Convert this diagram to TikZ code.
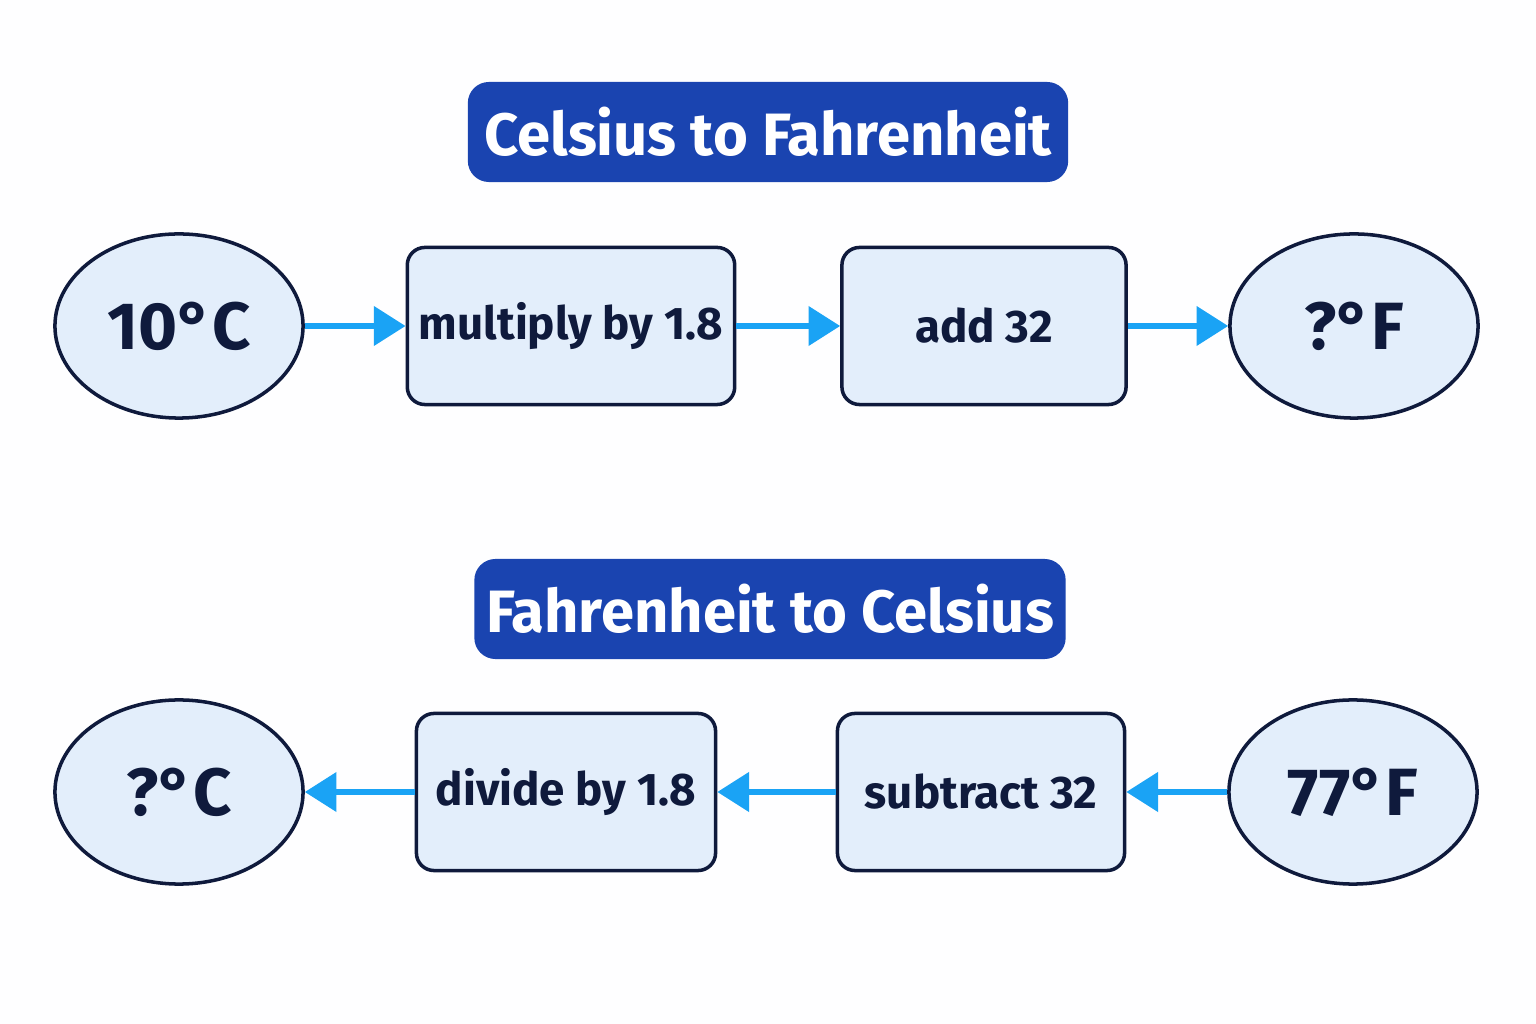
\documentclass[tikz,border=0pt]{standalone}
\usepackage{fontspec}
\setmainfont{Fira Sans}
\usetikzlibrary{arrows.meta,shapes.geometric}
\definecolor{navy}{HTML}{0F1A3C}
\definecolor{pale}{HTML}{E3EEFB}
\definecolor{royal}{HTML}{1A44B0}
\definecolor{sky}{HTML}{1AA3F5}
\begin{document}
\begin{tikzpicture}[x=0.01cm,y=0.01cm]
\tikzstyle{every node}=[text=navy]
\tikzstyle{title}=[fill=royal, rounded corners=6pt, text=white, font=\fontsize{17}{20}\selectfont\bfseries, minimum height=1cm]
\tikzstyle{temp}=[draw=navy, line width=1pt, ellipse, fill=pale, minimum width=2.48cm, minimum height=1.84cm, inner sep=0pt, font=\fontsize{19}{22}\selectfont\bfseries]
\tikzstyle{stage}=[draw=navy, line width=1pt, rounded corners=5pt, fill=pale, minimum height=1.57cm, font=\fontsize{13}{16}\selectfont\bfseries]
\tikzstyle{flow}=[draw=sky, line width=1.5pt, -{Triangle[length=9pt,width=11pt]}]

\useasboundingbox[fill=white!97!pale] (0,0) rectangle (1536,1024);

\node[title, minimum width=6cm] (T1) at (768, 892) {Celsius to Fahrenheit};
\node[temp] (C1) at (179, 698) {10°C};
\node[stage, minimum width=3.09cm] (M) at (571, 698) {multiply by 1.8};
\node[stage, minimum width=2.84cm] (A) at (984, 698) {add 32};
\node[temp] (F1) at (1354, 698) {?°F};

\node[title, minimum width=5.87cm] (T2) at (770, 415) {Fahrenheit to Celsius};
\node[temp] (C2) at (179, 232) {?°C};
\node[stage, minimum width=2.99cm] (D) at (566, 232) {divide by 1.8};
\node[stage, minimum width=2.87cm] (S) at (981, 232) {subtract 32};
\node[temp] (F2) at (1353, 232) {77°F};

\draw[flow] (C1) -- (M);
\draw[flow] (M) -- (A);
\draw[flow] (A) -- (F1);
\draw[flow] (F2) -- (S);
\draw[flow] (S) -- (D);
\draw[flow] (D) -- (C2);

\end{tikzpicture}
\end{document}
